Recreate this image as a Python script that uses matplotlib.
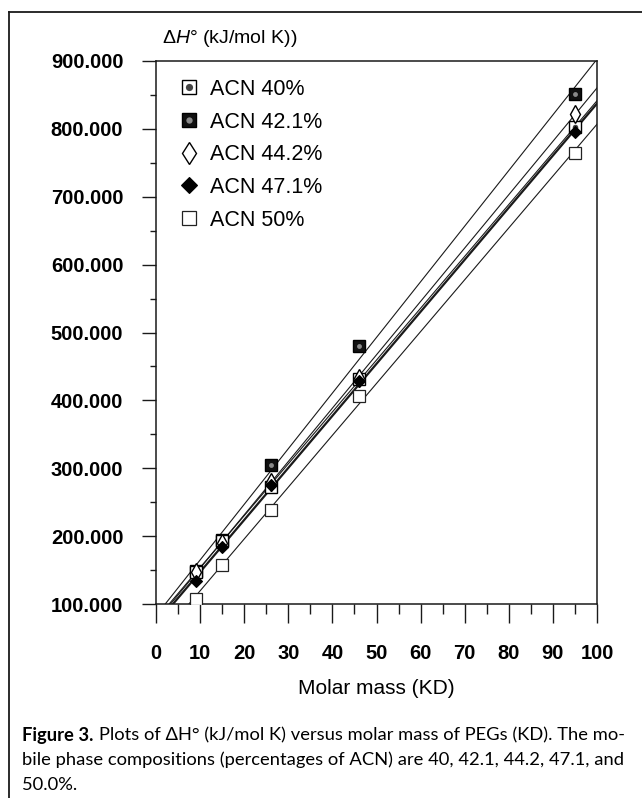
import numpy as np
import matplotlib
matplotlib.use('Agg')
import matplotlib.pyplot as plt
from matplotlib.ticker import MultipleLocator, FormatStrFormatter
from matplotlib.lines import Line2D

# ---- data ----
mass = [9, 15, 26, 46, 95]
acn40 = [147, 193, 272, 431, 803]
acn421 = [148, 195, 305, 480, 852]
acn442 = [147, 190, 280, 433, 822]
acn471 = [134, 184, 275, 428, 796]
acn50 = [108, 157, 238, 407, 764]
labels = ['ACN 40%', 'ACN 42.1%', 'ACN 44.2%', 'ACN 47.1%', 'ACN 50%']
x_lim = (0, 100)
y_lim = (100, 900)

plt.rcParams['font.family'] = ['Liberation Sans', 'DejaVu Sans']
plt.rcParams['mathtext.fontset'] = 'custom'
plt.rcParams['mathtext.rm'] = 'Liberation Sans'
plt.rcParams['mathtext.it'] = 'Liberation Sans:italic'
plt.rcParams['mathtext.bf'] = 'Liberation Sans:bold'

W, H = 642, 798
fig = plt.figure(figsize=(W / 100, H / 100), dpi=100)
ax = fig.add_axes([156 / W, 1 - 604 / H, (597 - 156) / W, (604 - 61) / H])

ink = '#1a1a1a'
xx = np.array(x_lim, dtype=float)

# regression lines
line_w = {'ACN 40%': 0.8, 'ACN 42.1%': 0.8, 'ACN 44.2%': 0.8, 'ACN 47.1%': 1.6, 'ACN 50%': 0.8}
series = [acn421, acn40, acn442, acn471, acn50]
names = [labels[1], labels[0], labels[2], labels[3], labels[4]]
for vals, nm in zip(series, names):
    c = np.polyfit(mass, vals, 1)
    ax.plot(xx, np.polyval(c, xx), color=ink, lw=line_w[nm], zorder=2)

# markers
h421a, = ax.plot(mass, acn421, ls='none', marker='s', ms=8, mfc='#111111', mec='black', mew=1, zorder=3)
h421b, = ax.plot(mass, acn421, ls='none', marker='o', ms=3.5, mfc='#8a8a8a', mec='none', zorder=3)
h40a, = ax.plot(mass, acn40, ls='none', marker='s', ms=8, mfc='white', mec='black', mew=1, zorder=4)
h40b, = ax.plot(mass, acn40, ls='none', marker='o', ms=4, mfc='#444444', mec='none', zorder=4)
h442, = ax.plot(mass, acn442, ls='none', marker='d', ms=9, mfc='white', mec='black', mew=1, zorder=5)
h471, = ax.plot(mass, acn471, ls='none', marker='D', ms=6, mfc='black', mec='black', mew=0.8, zorder=6)
h50, = ax.plot(mass, acn50, ls='none', marker='s', ms=8, mfc='white', mec='#222222', mew=0.9, zorder=7)

ax.set_xlim(*x_lim)
ax.set_ylim(*y_lim)
ax.xaxis.set_major_locator(MultipleLocator(10))
ax.xaxis.set_minor_locator(MultipleLocator(5))
ax.yaxis.set_major_locator(MultipleLocator(100))
ax.yaxis.set_minor_locator(MultipleLocator(50))
ax.yaxis.set_major_formatter(FormatStrFormatter('%.3f'))

for sp in ax.spines.values():
    sp.set_linewidth(1.1)
    sp.set_color(ink)

ax.tick_params(axis='x', which='major', direction='out', length=13.7, width=1.0, pad=15,
               labelsize=14.5, colors=ink)
ax.tick_params(axis='x', which='minor', direction='out', length=7.2, width=1.0, colors=ink)
ax.tick_params(axis='y', which='major', direction='out', length=10, width=1.0, pad=13.5,
               labelsize=14.5, colors=ink)
ax.tick_params(axis='y', which='minor', direction='out', length=4.3, width=1.0, colors=ink)
for lab in ax.get_xticklabels() + ax.get_yticklabels():
    lab.set_fontweight('bold')
    lab.set_color('black')

# legend
leg = ax.legend([(h40a, h40b), (h421a, h421b), h442, h471, h50], labels,
                loc='upper left', bbox_to_anchor=(178 / W, 1 - 79 / H),
                bbox_transform=fig.transFigure, frameon=False, fontsize=15.5,
                handlelength=1.0, handletextpad=0.5, labelspacing=0.54,
                borderpad=0, borderaxespad=0, markerscale=1.3, numpoints=1)

# axis titles
fig.text(162 / W, 1 - 43 / H, r'$\mathrm{Δ}\mathit{H}$° (kJ/mol K))', ha='left',
         va='baseline', fontsize=14)
fig.text(376 / W, 1 - 689 / H, 'Molar mass (KD)', ha='center', va='center', fontsize=15)

# outer frame of the figure panel
fig.add_artist(Line2D([9 / W, 9 / W], [0, 1 - 12 / H], transform=fig.transFigure,
                      color=ink, lw=1.3))
fig.add_artist(Line2D([9 / W, 1.0], [1 - 12 / H, 1 - 12 / H], transform=fig.transFigure,
                      color=ink, lw=1.3))

# caption
cap_fam = ['Lato', 'DejaVu Sans']
r = fig.canvas.get_renderer()
x0 = 22
fs = 15.0
line1b = 'Figure 3.'
line1 = 'Plots of ΔH° (kJ/mol K) versus molar mass of PEGs (KD). The mo-'
line2 = 'bile phase compositions (percentages of ACN) are 40, 42.1, 44.2, 47.1, and'
line3 = '50.0%.'
ys = [735, 760, 785]

tb = fig.text(x0 / W, 1 - ys[0] / H, line1b, fontweight='bold', family=cap_fam,
              fontsize=fs, va='center', ha='left')
t1 = fig.text(0, 1 - ys[0] / H, line1, family=cap_fam, fontsize=fs, va='center', ha='left')
t2 = fig.text(x0 / W, 1 - ys[1] / H, line2, family=cap_fam, fontsize=fs, va='center', ha='left')
t3 = fig.text(x0 / W, 1 - ys[2] / H, line3, family=cap_fam, fontsize=fs, va='center', ha='left')

def place():
    bb = tb.get_window_extent(r)
    t1.set_x((bb.x1 + 0.28 * fs * 100 / 72) / W)

place()
bb2 = t2.get_window_extent(r)
fs2 = fs * (626 - 22) / bb2.width
for t in (tb, t1, t2, t3):
    t.set_fontsize(fs2)
fs = fs2
place()

fig.savefig('out.png', dpi=100)
